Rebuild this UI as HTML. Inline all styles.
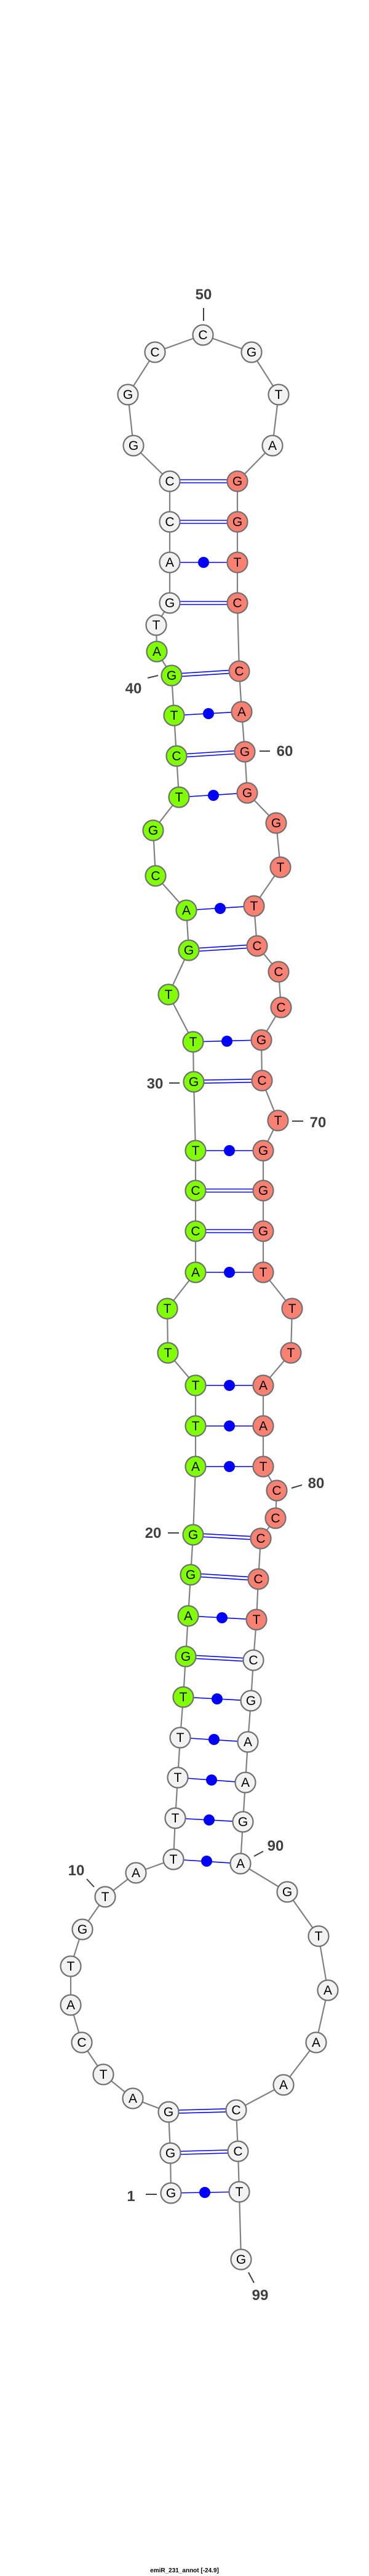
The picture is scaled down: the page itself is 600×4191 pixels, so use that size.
<!DOCTYPE html>
<html><head><meta charset="utf-8"><style>
html,body{margin:0;padding:0;background:#fff;}
svg{display:block;}
.n{stroke:#707070;stroke-width:2.2;}
.w{fill:#f2f2f2;}.g{fill:#7fff00;}.r{fill:#fa8072;}
.t{font-family:"Liberation Sans",sans-serif;font-size:21px;text-anchor:middle;fill:#000;}
.l{font-family:"Liberation Sans",sans-serif;font-size:24px;font-weight:bold;fill:#404040;}
.bb{fill:none;stroke:#808080;stroke-width:2.2;}
.p{stroke:#0000ff;stroke-width:1.6;}
.tk{stroke:#404040;stroke-width:2;}
</style></head><body>
<svg width="600" height="4191" viewBox="0 0 600 4191" xmlns="http://www.w3.org/2000/svg">
<polyline class="bb" points="278,3568 277,3503 274,3436 216,3414 168,3375 133,3323 115,3262 115,3199 134,3139 171,3086 221,3047 282,3025 285,2958 289,2892 293,2827 298,2761 302,2695 306,2629 310,2562 314,2497 318,2386 318,2320 318,2254 273,2201 272,2129 318,2070 318,2003 318,1937 318,1872 315,1760 314,1695 274,1618 307,1546 303,1481 253,1425 249,1351 291,1297 287,1230 283,1164 279,1099 255,1060 254,1017 276,981 276,915 276,849 276,783 217,725 208,642 252,573 330,545 409,573 453,642 443,725 386,783 386,849 386,915 386,981 389,1092 393,1158 398,1223 402,1290 449,1339 456,1411 413,1474 418,1539 453,1581 457,1639 425,1692 426,1758 452,1823 428,1872 428,1937 428,2003 428,2070 475,2129 473,2201 428,2254 428,2320 428,2386 450,2425 448,2470 424,2503 420,2569 417,2635 412,2701 408,2767 403,2834 399,2900 395,2964 391,3032 467,3078 518,3150 533,3238 514,3323 461,3392 384,3433 387,3500 389,3566 392,3676"/>
<!-- single pairs with dot -->
<g class="p">
<line x1="278" y1="3568" x2="389" y2="3566"/>
<line x1="282" y1="3025" x2="391" y2="3032"/>
<line x1="285" y1="2958" x2="395" y2="2964"/>
<line x1="289" y1="2892" x2="399" y2="2900"/>
<line x1="293" y1="2827" x2="403" y2="2834"/>
<line x1="298" y1="2761" x2="408" y2="2767"/>
<line x1="306" y1="2629" x2="417" y2="2635"/>
<line x1="318" y1="2386" x2="428" y2="2386"/>
<line x1="318" y1="2320" x2="428" y2="2320"/>
<line x1="318" y1="2254" x2="428" y2="2254"/>
<line x1="318" y1="2070" x2="428" y2="2070"/>
<line x1="318" y1="1872" x2="428" y2="1872"/>
<line x1="314" y1="1695" x2="425" y2="1692"/>
<line x1="303" y1="1481" x2="413" y2="1474"/>
<line x1="291" y1="1297" x2="402" y2="1290"/>
<line x1="283" y1="1164" x2="393" y2="1158"/>
<line x1="276" y1="915" x2="386" y2="915"/>
</g>
<g fill="#0000ff">
<circle cx="333" cy="3567" r="9"/>
<circle cx="336" cy="3028" r="9"/>
<circle cx="340" cy="2961" r="9"/>
<circle cx="344" cy="2896" r="9"/>
<circle cx="348" cy="2830" r="9"/>
<circle cx="353" cy="2764" r="9"/>
<circle cx="361" cy="2632" r="9"/>
<circle cx="373" cy="2386" r="9"/>
<circle cx="373" cy="2320" r="9"/>
<circle cx="373" cy="2254" r="9"/>
<circle cx="373" cy="2070" r="9"/>
<circle cx="373" cy="1872" r="9"/>
<circle cx="369" cy="1694" r="9"/>
<circle cx="358" cy="1478" r="9"/>
<circle cx="347" cy="1294" r="9"/>
<circle cx="339" cy="1161" r="9"/>
<circle cx="331" cy="915" r="9"/>
</g>
<!-- double pairs -->
<g class="p">
<line x1="277" y1="3500.5" x2="387" y2="3497.5"/><line x1="277" y1="3505.5" x2="387" y2="3502.5"/>
<line x1="274" y1="3433.5" x2="384" y2="3430.5"/><line x1="274" y1="3438.5" x2="384" y2="3435.5"/>
<line x1="302" y1="2692.5" x2="412" y2="2698.5"/><line x1="302" y1="2697.5" x2="412" y2="2703.5"/>
<line x1="310" y1="2559.5" x2="420" y2="2566.5"/><line x1="310" y1="2564.5" x2="420" y2="2571.5"/>
<line x1="314" y1="2494.5" x2="424" y2="2500.5"/><line x1="314" y1="2499.5" x2="424" y2="2505.5"/>
<line x1="318" y1="2000.5" x2="428" y2="2000.5"/><line x1="318" y1="2005.5" x2="428" y2="2005.5"/>
<line x1="318" y1="1934.5" x2="428" y2="1934.5"/><line x1="318" y1="1939.5" x2="428" y2="1939.5"/>
<line x1="315" y1="1757.5" x2="426" y2="1755.5"/><line x1="315" y1="1762.5" x2="426" y2="1760.5"/>
<line x1="307" y1="1543.5" x2="418" y2="1536.5"/><line x1="307" y1="1548.5" x2="418" y2="1541.5"/>
<line x1="287" y1="1227.5" x2="398" y2="1220.5"/><line x1="287" y1="1232.5" x2="398" y2="1225.5"/>
<line x1="279" y1="1096.5" x2="389" y2="1089.5"/><line x1="279" y1="1101.5" x2="389" y2="1094.5"/>
<line x1="276" y1="978.5" x2="386" y2="978.5"/><line x1="276" y1="983.5" x2="386" y2="983.5"/>
<line x1="276" y1="846.5" x2="386" y2="846.5"/><line x1="276" y1="851.5" x2="386" y2="851.5"/>
<line x1="276" y1="780.5" x2="386" y2="780.5"/><line x1="276" y1="785.5" x2="386" y2="785.5"/>
</g>
<!-- nodes -->
<g class="n">
<circle class="w" cx="278" cy="3568" r="16.5"/>
<circle class="w" cx="277" cy="3503" r="16.5"/>
<circle class="w" cx="274" cy="3436" r="16.5"/>
<circle class="w" cx="216" cy="3414" r="16.5"/>
<circle class="w" cx="168" cy="3375" r="16.5"/>
<circle class="w" cx="133" cy="3323" r="16.5"/>
<circle class="w" cx="115" cy="3262" r="16.5"/>
<circle class="w" cx="115" cy="3199" r="16.5"/>
<circle class="w" cx="134" cy="3139" r="16.5"/>
<circle class="w" cx="171" cy="3086" r="16.5"/>
<circle class="w" cx="221" cy="3047" r="16.5"/>
<circle class="w" cx="282" cy="3025" r="16.5"/>
<circle class="w" cx="285" cy="2958" r="16.5"/>
<circle class="w" cx="289" cy="2892" r="16.5"/>
<circle class="w" cx="293" cy="2827" r="16.5"/>
<circle class="g" cx="298" cy="2761" r="16.5"/>
<circle class="g" cx="302" cy="2695" r="16.5"/>
<circle class="g" cx="306" cy="2629" r="16.5"/>
<circle class="g" cx="310" cy="2562" r="16.5"/>
<circle class="g" cx="314" cy="2497" r="16.5"/>
<circle class="g" cx="318" cy="2386" r="16.5"/>
<circle class="g" cx="318" cy="2320" r="16.5"/>
<circle class="g" cx="318" cy="2254" r="16.5"/>
<circle class="g" cx="273" cy="2201" r="16.5"/>
<circle class="g" cx="272" cy="2129" r="16.5"/>
<circle class="g" cx="318" cy="2070" r="16.5"/>
<circle class="g" cx="318" cy="2003" r="16.5"/>
<circle class="g" cx="318" cy="1937" r="16.5"/>
<circle class="g" cx="318" cy="1872" r="16.5"/>
<circle class="g" cx="315" cy="1760" r="16.5"/>
<circle class="g" cx="314" cy="1695" r="16.5"/>
<circle class="g" cx="274" cy="1618" r="16.5"/>
<circle class="g" cx="307" cy="1546" r="16.5"/>
<circle class="g" cx="303" cy="1481" r="16.5"/>
<circle class="g" cx="253" cy="1425" r="16.5"/>
<circle class="g" cx="249" cy="1351" r="16.5"/>
<circle class="g" cx="291" cy="1297" r="16.5"/>
<circle class="g" cx="287" cy="1230" r="16.5"/>
<circle class="g" cx="283" cy="1164" r="16.5"/>
<circle class="g" cx="279" cy="1099" r="16.5"/>
<circle class="g" cx="255" cy="1060" r="16.5"/>
<circle class="w" cx="254" cy="1017" r="16.5"/>
<circle class="w" cx="276" cy="981" r="16.5"/>
<circle class="w" cx="276" cy="915" r="16.5"/>
<circle class="w" cx="276" cy="849" r="16.5"/>
<circle class="w" cx="276" cy="783" r="16.5"/>
<circle class="w" cx="217" cy="725" r="16.5"/>
<circle class="w" cx="208" cy="642" r="16.5"/>
<circle class="w" cx="252" cy="573" r="16.5"/>
<circle class="w" cx="330" cy="545" r="16.5"/>
<circle class="w" cx="409" cy="573" r="16.5"/>
<circle class="w" cx="453" cy="642" r="16.5"/>
<circle class="w" cx="443" cy="725" r="16.5"/>
<circle class="r" cx="386" cy="783" r="16.5"/>
<circle class="r" cx="386" cy="849" r="16.5"/>
<circle class="r" cx="386" cy="915" r="16.5"/>
<circle class="r" cx="386" cy="981" r="16.5"/>
<circle class="r" cx="389" cy="1092" r="16.5"/>
<circle class="r" cx="393" cy="1158" r="16.5"/>
<circle class="r" cx="398" cy="1223" r="16.5"/>
<circle class="r" cx="402" cy="1290" r="16.5"/>
<circle class="r" cx="449" cy="1339" r="16.5"/>
<circle class="r" cx="456" cy="1411" r="16.5"/>
<circle class="r" cx="413" cy="1474" r="16.5"/>
<circle class="r" cx="418" cy="1539" r="16.5"/>
<circle class="r" cx="453" cy="1581" r="16.5"/>
<circle class="r" cx="457" cy="1639" r="16.5"/>
<circle class="r" cx="425" cy="1692" r="16.5"/>
<circle class="r" cx="426" cy="1758" r="16.5"/>
<circle class="r" cx="452" cy="1823" r="16.5"/>
<circle class="r" cx="428" cy="1872" r="16.5"/>
<circle class="r" cx="428" cy="1937" r="16.5"/>
<circle class="r" cx="428" cy="2003" r="16.5"/>
<circle class="r" cx="428" cy="2070" r="16.5"/>
<circle class="r" cx="475" cy="2129" r="16.5"/>
<circle class="r" cx="473" cy="2201" r="16.5"/>
<circle class="r" cx="428" cy="2254" r="16.5"/>
<circle class="r" cx="428" cy="2320" r="16.5"/>
<circle class="r" cx="428" cy="2386" r="16.5"/>
<circle class="r" cx="450" cy="2425" r="16.5"/>
<circle class="r" cx="448" cy="2470" r="16.5"/>
<circle class="r" cx="424" cy="2503" r="16.5"/>
<circle class="r" cx="420" cy="2569" r="16.5"/>
<circle class="r" cx="417" cy="2635" r="16.5"/>
<circle class="w" cx="412" cy="2701" r="16.5"/>
<circle class="w" cx="408" cy="2767" r="16.5"/>
<circle class="w" cx="403" cy="2834" r="16.5"/>
<circle class="w" cx="399" cy="2900" r="16.5"/>
<circle class="w" cx="395" cy="2964" r="16.5"/>
<circle class="w" cx="391" cy="3032" r="16.5"/>
<circle class="w" cx="467" cy="3078" r="16.5"/>
<circle class="w" cx="518" cy="3150" r="16.5"/>
<circle class="w" cx="533" cy="3238" r="16.5"/>
<circle class="w" cx="514" cy="3323" r="16.5"/>
<circle class="w" cx="461" cy="3392" r="16.5"/>
<circle class="w" cx="384" cy="3433" r="16.5"/>
<circle class="w" cx="387" cy="3500" r="16.5"/>
<circle class="w" cx="389" cy="3566" r="16.5"/>
<circle class="w" cx="392" cy="3676" r="16.5"/>
</g>
<g class="t">
<text x="278" y="3575">G</text>
<text x="277" y="3510">G</text>
<text x="274" y="3443">G</text>
<text x="216" y="3421">A</text>
<text x="168" y="3382">T</text>
<text x="133" y="3330">C</text>
<text x="115" y="3269">A</text>
<text x="115" y="3206">T</text>
<text x="134" y="3146">G</text>
<text x="171" y="3093">T</text>
<text x="221" y="3054">A</text>
<text x="282" y="3032">T</text>
<text x="285" y="2965">T</text>
<text x="289" y="2899">T</text>
<text x="293" y="2834">T</text>
<text x="298" y="2768">T</text>
<text x="302" y="2702">G</text>
<text x="306" y="2636">A</text>
<text x="310" y="2569">G</text>
<text x="314" y="2504">G</text>
<text x="318" y="2393">A</text>
<text x="318" y="2327">T</text>
<text x="318" y="2261">T</text>
<text x="273" y="2208">T</text>
<text x="272" y="2136">T</text>
<text x="318" y="2077">A</text>
<text x="318" y="2010">C</text>
<text x="318" y="1944">C</text>
<text x="318" y="1879">T</text>
<text x="315" y="1767">G</text>
<text x="314" y="1702">T</text>
<text x="274" y="1625">T</text>
<text x="307" y="1553">G</text>
<text x="303" y="1488">A</text>
<text x="253" y="1432">C</text>
<text x="249" y="1358">G</text>
<text x="291" y="1304">T</text>
<text x="287" y="1237">C</text>
<text x="283" y="1171">T</text>
<text x="279" y="1106">G</text>
<text x="255" y="1067">A</text>
<text x="254" y="1024">T</text>
<text x="276" y="988">G</text>
<text x="276" y="922">A</text>
<text x="276" y="856">C</text>
<text x="276" y="790">C</text>
<text x="217" y="732">G</text>
<text x="208" y="649">G</text>
<text x="252" y="580">C</text>
<text x="330" y="552">C</text>
<text x="409" y="580">G</text>
<text x="453" y="649">T</text>
<text x="443" y="732">A</text>
<text x="386" y="790">G</text>
<text x="386" y="856">G</text>
<text x="386" y="922">T</text>
<text x="386" y="988">C</text>
<text x="389" y="1099">C</text>
<text x="393" y="1165">A</text>
<text x="398" y="1230">G</text>
<text x="402" y="1297">G</text>
<text x="449" y="1346">G</text>
<text x="456" y="1418">T</text>
<text x="413" y="1481">T</text>
<text x="418" y="1546">C</text>
<text x="453" y="1588">C</text>
<text x="457" y="1646">C</text>
<text x="425" y="1699">G</text>
<text x="426" y="1765">C</text>
<text x="452" y="1830">T</text>
<text x="428" y="1879">G</text>
<text x="428" y="1944">G</text>
<text x="428" y="2010">G</text>
<text x="428" y="2077">T</text>
<text x="475" y="2136">T</text>
<text x="473" y="2208">T</text>
<text x="428" y="2261">A</text>
<text x="428" y="2327">A</text>
<text x="428" y="2393">T</text>
<text x="450" y="2432">C</text>
<text x="448" y="2477">C</text>
<text x="424" y="2510">C</text>
<text x="420" y="2576">C</text>
<text x="417" y="2642">T</text>
<text x="412" y="2708">C</text>
<text x="408" y="2774">G</text>
<text x="403" y="2841">A</text>
<text x="399" y="2907">A</text>
<text x="395" y="2971">G</text>
<text x="391" y="3039">A</text>
<text x="467" y="3085">G</text>
<text x="518" y="3157">T</text>
<text x="533" y="3245">A</text>
<text x="514" y="3330">A</text>
<text x="461" y="3399">A</text>
<text x="384" y="3440">C</text>
<text x="387" y="3507">C</text>
<text x="389" y="3573">T</text>
<text x="392" y="3683">G</text>
</g>
<!-- position labels -->
<g class="tk">
<line x1="331" y1="501" x2="331" y2="522"/>
<line x1="240" y1="1103" x2="257" y2="1099"/>
<line x1="422" y1="1222" x2="439" y2="1222"/>
<line x1="275" y1="1762" x2="292" y2="1762"/>
<line x1="475" y1="1824" x2="493" y2="1824"/>
<line x1="474" y1="2421" x2="491" y2="2416"/>
<line x1="273" y1="2494" x2="291" y2="2494"/>
<line x1="413" y1="3020" x2="428" y2="3012"/>
<line x1="141" y1="3057" x2="153" y2="3070"/>
<line x1="237" y1="3570" x2="255" y2="3570"/>
<line x1="404" y1="3697" x2="413" y2="3714"/>
</g>
<g class="l">
<text x="331" y="487" text-anchor="middle">50</text>
<text x="217" y="1128" text-anchor="middle">40</text>
<text x="463" y="1230" text-anchor="middle">60</text>
<text x="252" y="1771" text-anchor="middle">30</text>
<text x="517" y="1834" text-anchor="middle">70</text>
<text x="514" y="2421" text-anchor="middle">80</text>
<text x="249" y="2502" text-anchor="middle">20</text>
<text x="448" y="3011" text-anchor="middle">90</text>
<text x="124" y="3051" text-anchor="middle">10</text>
<text x="213" y="3581" text-anchor="middle">1</text>
<text x="423" y="3742" text-anchor="middle">99</text>
</g>
<text x="300" y="4185" text-anchor="middle" style="font-family:'Liberation Sans',sans-serif;font-size:10px;font-weight:bold;fill:#000;">emiR_231_annot [-24.9]</text>
</svg>
</body></html>
